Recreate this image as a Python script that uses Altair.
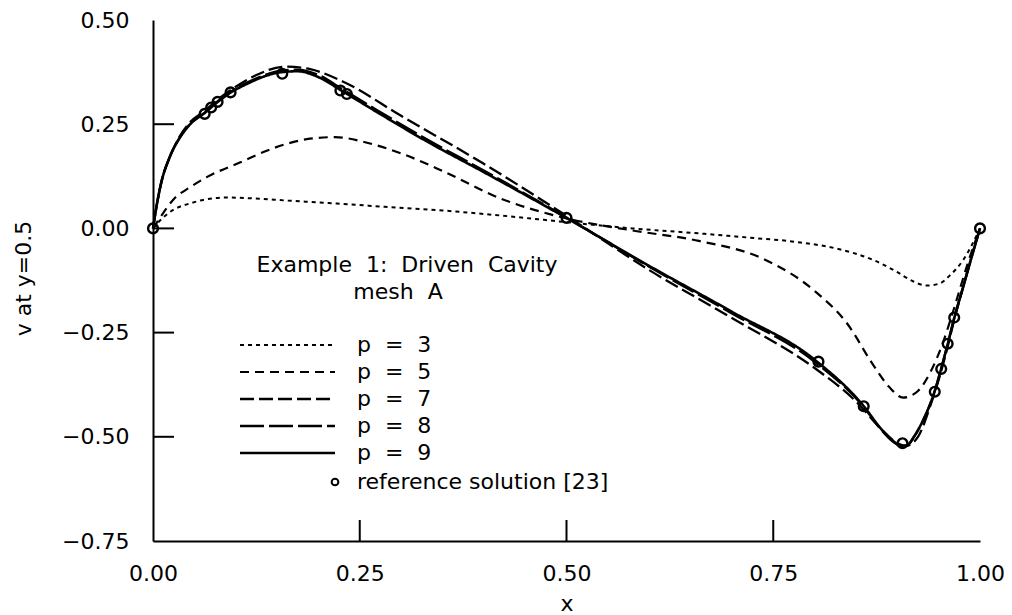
import altair as alt
import pandas as pd

FONT = "DejaVu Sans"
FS = 22

# Reference solution [23]: v along the horizontal centreline y = 0.5
ref_x = [0.0, 0.0625, 0.0703, 0.0781, 0.0938, 0.1563, 0.2266, 0.2344, 0.5,
         0.8047, 0.8594, 0.9063, 0.9453, 0.9531, 0.9609, 0.9688, 1.0]
ref_v = [0.0, 0.27485, 0.29012, 0.30353, 0.32627, 0.37095, 0.33075, 0.32235, 0.02526,
         -0.31966, -0.42665, -0.5155, -0.39188, -0.33714, -0.27669, -0.21388, 0.0]

# p = 3
p3_x = [0.0, 0.01, 0.025, 0.045, 0.065, 0.09, 0.12, 0.16, 0.21, 0.28, 0.35, 0.42, 0.5,
        0.58, 0.66, 0.72, 0.78, 0.83, 0.87, 0.9, 0.92, 0.935, 0.95, 0.965, 0.98, 1.0]
p3_v = [0.0, 0.022, 0.045, 0.06, 0.07, 0.074, 0.072, 0.067, 0.061, 0.052, 0.043, 0.031, 0.015,
        0.0, -0.012, -0.022, -0.033, -0.05, -0.075, -0.105, -0.128, -0.137, -0.133, -0.11, -0.075, 0.0]

# p = 5
p5_x = [0.0, 0.01, 0.025, 0.045, 0.065, 0.105, 0.145, 0.186, 0.22, 0.26, 0.3, 0.35, 0.42, 0.5,
        0.58, 0.66, 0.74, 0.8, 0.84, 0.87, 0.89, 0.907, 0.925, 0.94, 0.955, 0.965, 0.975, 0.985, 1.0]
p5_v = [0.0, 0.03, 0.07, 0.099, 0.123, 0.158, 0.192, 0.214, 0.219, 0.205, 0.18, 0.138, 0.072, 0.024,
        -0.005, -0.03, -0.075, -0.15, -0.23, -0.325, -0.38, -0.406, -0.39, -0.345, -0.275, -0.215,
        -0.15, -0.085, 0.0]

# p = 7
p7_x = [0.0, 0.004, 0.01, 0.02, 0.03, 0.045, 0.0625, 0.08, 0.1, 0.125, 0.16, 0.19, 0.23, 0.3,
        0.4, 0.5, 0.6, 0.7, 0.8, 0.85, 0.88, 0.9, 0.91, 0.925, 0.94, 0.953, 0.961, 0.969, 0.98,
        0.99, 1.0]
p7_v = [0.0, 0.05, 0.11, 0.17, 0.213, 0.255, 0.282, 0.312, 0.34, 0.368, 0.388, 0.382, 0.352, 0.27,
        0.155, 0.03, -0.1, -0.215, -0.335, -0.415, -0.48, -0.515, -0.522, -0.5, -0.425, -0.343,
        -0.283, -0.218, -0.138, -0.066, 0.0]

# p = 8
p8_x = [0.0, 0.004, 0.01, 0.02, 0.03, 0.045, 0.0625, 0.078, 0.094, 0.115, 0.135, 0.156, 0.175,
        0.2, 0.23, 0.27, 0.33, 0.4, 0.5, 0.6, 0.7, 0.8, 0.86, 0.88, 0.895, 0.905, 0.912, 0.92,
        0.93, 0.94, 0.9453, 0.953, 0.961, 0.969, 0.98, 0.99, 1.0]
p8_v = [0.0, 0.05, 0.11, 0.17, 0.21, 0.251, 0.278, 0.305, 0.328, 0.351, 0.368, 0.379, 0.381,
        0.368, 0.333, 0.285, 0.215, 0.139, 0.026, -0.092, -0.204, -0.32, -0.43, -0.482, -0.512,
        -0.523, -0.521, -0.501, -0.466, -0.42, -0.39, -0.337, -0.277, -0.214, -0.138, -0.068, 0.0]

# p = 9
p9_x = [0.0, 0.004, 0.01, 0.02, 0.03, 0.045, 0.0625, 0.078, 0.094, 0.115, 0.135, 0.156, 0.175,
        0.2, 0.23, 0.27, 0.33, 0.4, 0.5, 0.6, 0.7, 0.8, 0.86, 0.88, 0.895, 0.905, 0.912, 0.92,
        0.93, 0.94, 0.9453, 0.953, 0.961, 0.969, 0.98, 0.99, 1.0]
p9_v = [0.0, 0.05, 0.11, 0.17, 0.21, 0.25, 0.277, 0.303, 0.326, 0.348, 0.365, 0.375, 0.377,
        0.363, 0.328, 0.28, 0.21, 0.135, 0.025, -0.09, -0.2, -0.315, -0.428, -0.48, -0.51,
        -0.522, -0.52, -0.5, -0.465, -0.42, -0.39, -0.337, -0.277, -0.214, -0.138, -0.068, 0.0]

series_labels = ["p = 3", "p = 5", "p = 7", "p = 8", "p = 9"]
series_data = [(p3_x, p3_v), (p5_x, p5_v), (p7_x, p7_v), (p8_x, p8_v), (p9_x, p9_v)]
# line style per polynomial degree
series_dash = [[4, 4], [9, 6], [14, 5], [24, 5], [1, 0]]
series_width = [2.0, 2.2, 2.3, 2.3, 2.6]

x_ticks = [0.0, 0.25, 0.5, 0.75, 1.0]
y_ticks = [0.5, 0.25, 0.0, -0.25, -0.5, -0.75]
x_inner_ticks = [0.25, 0.5, 0.75]
y_inner_ticks = [0.25, 0.0, -0.25, -0.5]

W, H = 827, 521
TICK_LEN = 21

x_scale = alt.Scale(domain=[0, 1], nice=False, zero=False)
y_scale = alt.Scale(domain=[-0.75, 0.5], nice=False, zero=False)

x_axis = alt.Axis(values=x_ticks, format=".2f", title="x", ticks=False, grid=False,
                  labelPadding=22, labelFlush=False, labelOverlap=False,
                  domainColor="black", domainWidth=2,
                  labelFont=FONT, labelFontSize=FS, labelColor="black",
                  titleFont=FONT, titleFontSize=FS, titleFontWeight="normal",
                  titleColor="black", titleBaseline="alphabetic", titleY=69)
y_axis = alt.Axis(values=y_ticks, format=".2f", title="v at y=0.5", ticks=False, grid=False,
                  labelPadding=24, labelFlush=False, labelOverlap=False,
                  domainColor="black", domainWidth=2,
                  labelFont=FONT, labelFontSize=FS, labelColor="black",
                  titleFont=FONT, titleFontSize=FS, titleFontWeight="normal",
                  titleColor="black", titleBaseline="alphabetic", titleAngle=270,
                  titleAlign="center", titleX=-123, titleY=258)


def X(field="x"):
    return alt.X(f"{field}:Q", scale=x_scale, axis=x_axis)


def Y(field="y"):
    return alt.Y(f"{field}:Q", scale=y_scale, axis=y_axis)


layers = []
base_df = pd.DataFrame({"x": ref_x, "y": ref_v})

# computed solutions
for label, (xs, vs), dash, sw in zip(series_labels, series_data, series_dash, series_width):
    df = pd.DataFrame({"x": xs, "y": vs})
    layers.append(
        alt.Chart(df).mark_line(color="black", strokeWidth=sw, strokeDash=dash,
                                interpolate="monotone").encode(x=X(), y=Y())
    )

# reference solution markers
layers.append(
    alt.Chart(base_df).mark_point(shape="circle", filled=False, size=95, strokeWidth=2.4,
                                  color="black", opacity=1).encode(x=X(), y=Y())
)

# inward tick marks
layers.append(
    alt.Chart(pd.DataFrame({"x": x_inner_ticks})).mark_rule(color="black", strokeWidth=2).encode(
        x=X(), y=alt.value(H), y2=alt.value(H - TICK_LEN),
    )
)
layers.append(
    alt.Chart(pd.DataFrame({"y": y_inner_ticks})).mark_rule(color="black", strokeWidth=2).encode(
        y=Y(), x=alt.value(0), x2=alt.value(TICK_LEN),
    )
)

# caption inside the plot
caption_lines = ["Example\u00a0\u00a01:\u00a0\u00a0Driven\u00a0\u00a0Cavity", "mesh\u00a0\u00a0A"]
caption_pos = [(254, 245), (245, 272)]
for text, (cx, cy) in zip(caption_lines, caption_pos):
    layers.append(
        alt.Chart(pd.DataFrame({"t": [text]})).mark_text(
            font=FONT, fontSize=FS, color="black", align="center", baseline="middle"
        ).encode(x=alt.value(cx), y=alt.value(cy), text="t:N")
    )

# hand-placed legend
LEG_X0, LEG_X1, LEG_TX, LEG_Y0, LEG_DY = 87, 182, 204, 325, 27
for i, (label, dash, sw) in enumerate(zip(series_labels, series_dash, series_width)):
    ly = LEG_Y0 + i * LEG_DY
    shown = label.replace(" ", "\u00a0\u00a0")
    leg_df = pd.DataFrame({"t": [shown]})
    layers.append(
        alt.Chart(leg_df).mark_rule(color="black", strokeWidth=sw, strokeDash=dash).encode(
            x=alt.value(LEG_X0), x2=alt.value(LEG_X1), y=alt.value(ly)
        )
    )
    layers.append(
        alt.Chart(leg_df).mark_text(font=FONT, fontSize=FS, color="black", align="left",
                                    baseline="middle").encode(
            x=alt.value(LEG_TX), y=alt.value(ly), text="t:N"
        )
    )

ref_row_y = LEG_Y0 + len(series_labels) * LEG_DY + 2
ref_df = pd.DataFrame({"t": ["reference solution [23]"]})
layers.append(
    alt.Chart(ref_df).mark_point(shape="circle", filled=False, size=45, strokeWidth=2,
                                 color="black", opacity=1).encode(
        x=alt.value(LEG_X1), y=alt.value(ref_row_y))
)
layers.append(
    alt.Chart(ref_df).mark_text(font=FONT, fontSize=FS, color="black", align="left",
                                baseline="middle").encode(
        x=alt.value(LEG_TX), y=alt.value(ref_row_y), text="t:N"
    )
)

chart = alt.layer(*layers).properties(
    width=W, height=H,
    autosize=alt.AutoSizeParams(type="none"),
    padding={"left": 153, "top": 20, "right": 32, "bottom": 74},
    background="white",
).configure_view(stroke=None)

chart.save("out.html", embed_options={"renderer": "svg", "actions": False})
